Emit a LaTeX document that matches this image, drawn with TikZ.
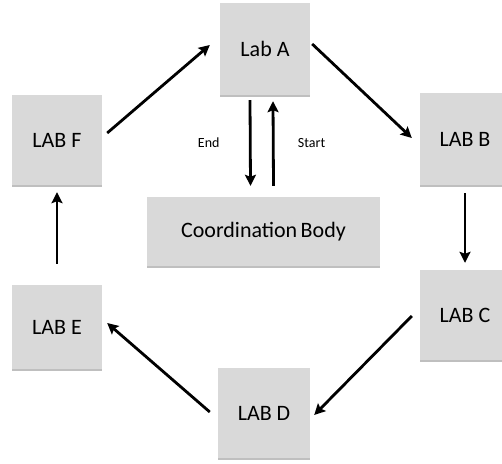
\documentclass[tikz,border=0pt]{standalone}
\usepackage{fontspec}
\setmainfont{Carlito}
\usetikzlibrary{arrows.meta,calc,shadows}
\definecolor{boxgray}{HTML}{D9D9D9}
\begin{document}
\begin{tikzpicture}[x=1pt,y=-1pt,
    lab/.style={fill=boxgray,minimum width=90pt,minimum height=90pt,inner sep=0pt,font=\fontsize{22}{25}\selectfont,
        drop shadow={shadow xshift=0pt,shadow yshift=-2pt,fill=black!50,opacity=0.5}},
    flow/.style={line width=2.8pt,-{Stealth[length=11pt,width=11pt,inset=2pt]}},
    tag/.style={font=\fontsize{14}{16}\selectfont}]
        \useasboundingbox (0,0) rectangle (502,463);
        \node[lab,minimum height=92pt] (laba) at (265,49) {Lab A};
        \node[lab,minimum height=92pt] (labb) at (465,139) {LAB B};
        \node[lab] (labc) at (465,315) {LAB C};
        \node[lab,minimum width=92pt] (labd) at (264,413) {LAB D};
        \node[lab,minimum height=84pt] (labe) at (57,327) {LAB E};
        \node[lab] (labf) at (57,140) {LAB F};
        \node[lab,minimum width=233pt,minimum height=69pt] (body) at (263.5,231.5) {Coordination\hspace{-1.5pt} Body};
        \draw[flow] ($(labf.east)+(5,-7)$) -- ($(laba.west)+(-10,-4)$);
        \draw[flow] ($(laba.east)+(2,-5)$) -- ($(labb.west)+(-8,-1)$);
        \draw[flow] ($(labb.south)+(0,8)$) -- ($(labc.north)+(0,-7)$);
        \draw[flow] ($(labc.west)+(-8,1)$) -- ($(labd.east)+(4,2)$);
        \draw[flow] ($(labd.west)+(-8,-1)$) -- ($(labe.east)+(5,-4)$);
        \draw[flow] ($(labe.north)+(0,-21)$) -- ($(labf.south)+(0,7)$);
        \draw[flow] ($(laba.south)+(-15,5)$) -- node[tag,midway,left=26pt] (end) {End} ($(body.north)+(-13,-11)$);
        \draw[flow] ($(body.north)+(10,-11)$) -- node[tag,midway,right=20pt] (start) {Start} ($(laba.south)+(8,6)$);
    \end{tikzpicture}
\end{document}
